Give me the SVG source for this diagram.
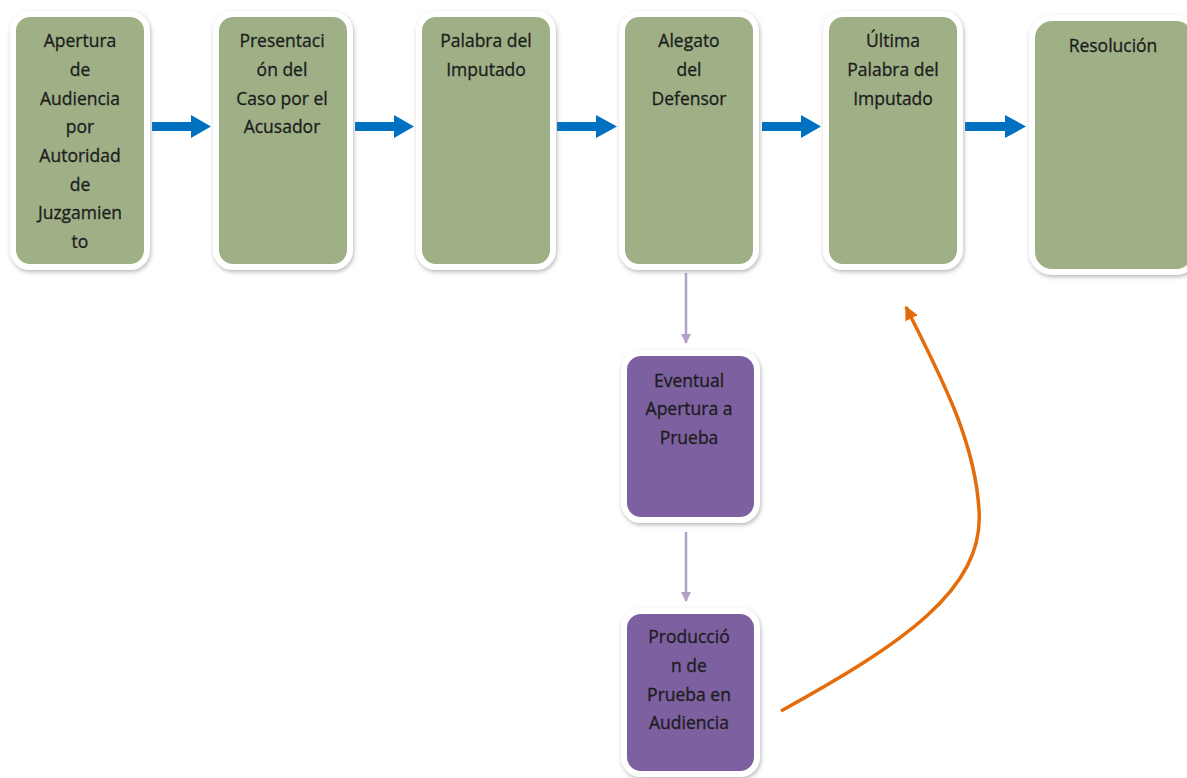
<svg xmlns="http://www.w3.org/2000/svg" width="1187" height="778" viewBox="0 0 1187 778">
<defs>
<filter id="sh" x="-20%" y="-20%" width="140%" height="140%">
<feDropShadow dx="1" dy="2" stdDeviation="2" flood-color="#808080" flood-opacity="0.55"/>
</filter>
<marker id="pa" viewBox="0 0 10 10" refX="9" refY="5" markerWidth="10" markerHeight="10" markerUnits="userSpaceOnUse" orient="auto">
<path d="M0,0 L10,5 L0,10 Z" fill="#B3A2C7"/>
</marker>
<marker id="oa" viewBox="0 0 10 10" refX="9" refY="5" markerWidth="14" markerHeight="14" markerUnits="userSpaceOnUse" orient="auto">
<path d="M0,0 L10,5 L0,10 Z" fill="#E46C0A"/>
</marker>
</defs>
<style>
.g{fill:#9FB087;stroke:#fff;stroke-width:6;filter:url(#sh)}
.p{fill:#7D60A0;stroke:#fff;stroke-width:6;filter:url(#sh)}
text{font-family:"Open Sans","Liberation Sans",sans-serif;font-size:17.5px;fill:#1c1c1c;stroke:#1c1c1c;stroke-width:0.3;text-anchor:middle}
.ba{fill:#0070C0}
</style>
<rect width="1187" height="778" fill="#fff"/>
<g id="connectors">
<path class="ba" d="M152,122 H191 V115 L211,126.5 L191,138 V131 H152 Z"/>
<path class="ba" d="M355,122 H394 V115 L414,126.5 L394,138 V131 H355 Z"/>
<path class="ba" d="M557,122 H596 V115 L617,126.5 L596,138 V131 H557 Z"/>
<path class="ba" d="M762,122 H801 V115 L821,126.5 L801,138 V131 H762 Z"/>
<path class="ba" d="M965,122 H1005 V115 L1026,126.5 L1005,138 V131 H965 Z"/>
<line x1="686" y1="273" x2="686" y2="343" stroke="#B3A2C7" stroke-width="2.5" marker-end="url(#pa)"/>
<line x1="686" y1="532" x2="686" y2="601" stroke="#B3A2C7" stroke-width="2.5" marker-end="url(#pa)"/>
<path d="M781,711 C900,645 985,590 979,510 C975,440 940,375 906,307" fill="none" stroke="#E46C0A" stroke-width="3.5" marker-end="url(#oa)"/>
</g>
<g id="n1">
<rect class="g" x="13" y="14" width="134" height="253" rx="17"/>
<text x="80" y="47">Apertura</text>
<text x="80" y="76">de</text>
<text x="80" y="105">Audiencia</text>
<text x="80" y="133">por</text>
<text x="80" y="162">Autoridad</text>
<text x="80" y="191">de</text>
<text x="80" y="219">Juzgamien</text>
<text x="80" y="248">to</text>
</g>
<g id="n2">
<rect class="g" x="216" y="14" width="134" height="253" rx="17"/>
<text x="282" y="47">Presentaci</text>
<text x="282" y="76">ón del</text>
<text x="282" y="105">Caso por el</text>
<text x="282" y="133">Acusador</text>
</g>
<g id="n3">
<rect class="g" x="419" y="14" width="134" height="253" rx="17"/>
<text x="486" y="47">Palabra del</text>
<text x="486" y="76">Imputado</text>
</g>
<g id="n4">
<rect class="g" x="622" y="14" width="134" height="253" rx="17"/>
<text x="689" y="47">Alegato</text>
<text x="689" y="76">del</text>
<text x="689" y="105">Defensor</text>
</g>
<g id="n5">
<rect class="g" x="826" y="14" width="134" height="253" rx="17"/>
<text x="893" y="47">Última</text>
<text x="893" y="76">Palabra del</text>
<text x="893" y="105">Imputado</text>
</g>
<g id="n6">
<rect class="g" x="1032" y="18" width="164" height="254" rx="20"/>
<text x="1113" y="52">Resolución</text>
</g>
<g id="n7">
<rect class="p" x="624" y="353" width="133" height="167" rx="17"/>
<text x="689" y="387">Eventual</text>
<text x="689" y="415">Apertura a</text>
<text x="689" y="444">Prueba</text>
</g>
<g id="n8">
<rect class="p" x="624" y="611" width="133" height="163" rx="17"/>
<text x="689" y="643">Producció</text>
<text x="689" y="672">n de</text>
<text x="689" y="701">Prueba en</text>
<text x="689" y="729">Audiencia</text>
</g>
</svg>
